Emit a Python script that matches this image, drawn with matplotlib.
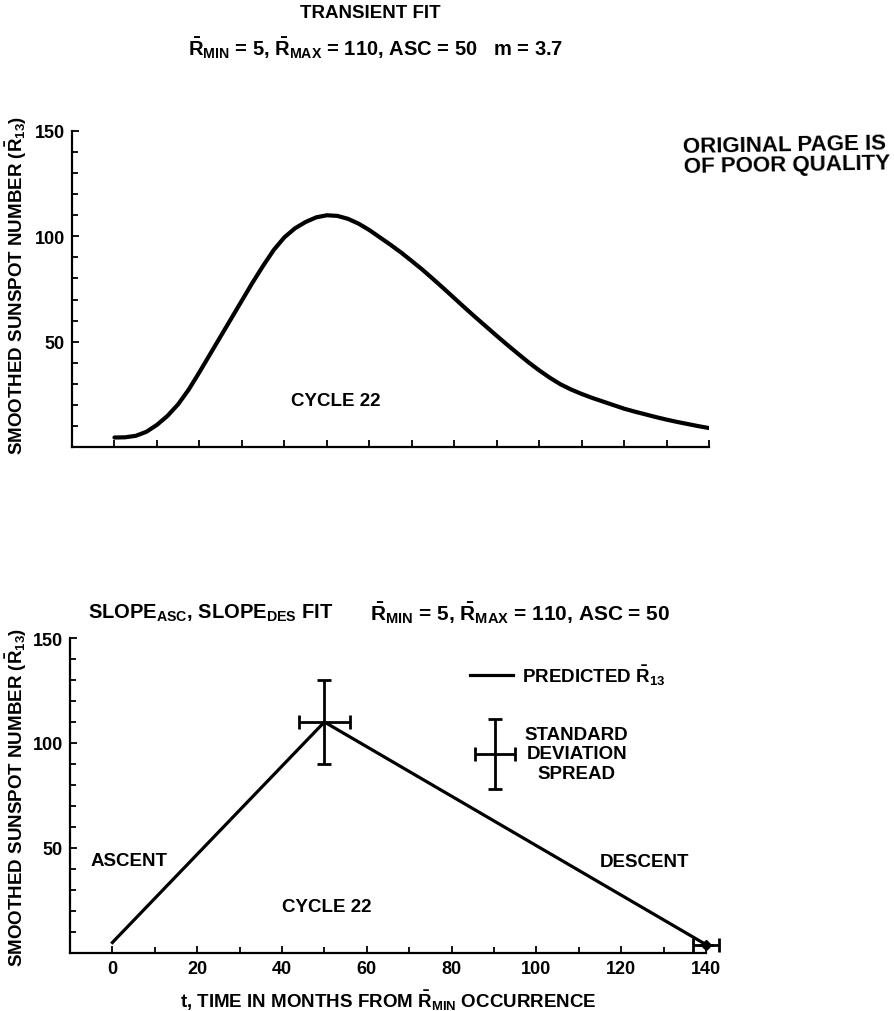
import matplotlib
matplotlib.use("Agg")
import matplotlib.pyplot as plt
from matplotlib.ticker import MultipleLocator

plt.rcParams['font.family'] = ['Liberation Sans', 'DejaVu Sans']
plt.rcParams['font.weight'] = 'bold'
plt.rcParams['axes.labelweight'] = 'bold'
plt.rcParams['font.size'] = 13.5
plt.rcParams['mathtext.fontset'] = 'custom'
plt.rcParams['mathtext.rm'] = 'Liberation Sans:bold'
plt.rcParams['mathtext.it'] = 'Liberation Sans:bold'
plt.rcParams['mathtext.bf'] = 'Liberation Sans:bold'

# top panel: transient fit curve (months from R_min, smoothed sunspot number)
t_fit = [0, 2.5, 5, 7.5, 10, 12.5, 15, 17.5, 20, 22.5, 25, 27.5, 30, 32.5, 35,
         37.5, 40, 42.5, 45, 47.5, 50, 52.5, 55, 57.5, 60, 62.5, 65, 67.5, 70,
         72.5, 75, 77.5, 80, 82.5, 85, 87.5, 90, 92.5, 95, 97.5, 100, 102.5, 105,
         107.5, 110, 112.5, 115, 117.5, 120, 122.5, 125, 127.5, 130, 132.5, 135,
         137.5, 140]
r_fit = [4.5, 4.6, 5.3, 7.2, 10.5, 14.8, 20.3, 27.3, 35.5, 44, 52.5, 61, 69.5, 78, 86,
         93.5, 99.5, 103.8, 106.8, 109, 110, 109.7, 108.3, 106, 103, 99.5, 96, 92.3, 88.3,
         84.2, 79.8, 75.3, 70.7, 66.1, 61.6, 57.2, 52.8, 48.5, 44.3, 40.2, 36.4, 32.9, 29.8,
         27.3, 25.2, 23.3, 21.6, 19.9, 18.2, 16.8, 15.5, 14.2, 13, 11.9, 10.9,
         9.9, 9]

# bottom panel: slope fit (ascent / descent)
t_slope = [0, 50, 140]
r_slope = [5, 110, 4]

# standard deviation spread at the peak and at the end
t_err = [50, 140]
r_err = [110, 4]
t_spread = [6, 3]
r_spread = [20, 0]

YLAB = r"SMOOTHED SUNSPOT NUMBER ($\bar{\mathrm{R}}_{13}$)"

fig = plt.figure(figsize=(8.95, 10.12), dpi=100)
ax1 = fig.add_axes([72 / 895, 1 - 448 / 1012, (709 - 72) / 895, 316 / 1012])
ax2 = fig.add_axes([70 / 895, 1 - 954 / 1012, (706 - 70) / 895, 315 / 1012])

for ax in (ax1, ax2):
    ax.set_xlim(-10, 140)
    ax.set_ylim(0, 150)
    ax.spines['top'].set_visible(False)
    ax.spines['right'].set_visible(False)
    for s in ('left', 'bottom'):
        ax.spines[s].set_linewidth(1.6)
    ax.yaxis.set_major_locator(MultipleLocator(50))
    ax.yaxis.set_minor_locator(MultipleLocator(10))
    ax.tick_params(which='both', direction='in', width=1.3)
    ax.tick_params(which='major', length=5, pad=5, labelsize=13)
    ax.tick_params(which='minor', length=4)

ax1.set_xticks(range(0, 141, 10))
ax1.tick_params(axis='x', labelbottom=False)
ax1.set_yticks([50, 100, 150])

ax2.set_xticks(range(0, 141, 20))
ax2.xaxis.set_minor_locator(MultipleLocator(10))
ax2.set_yticks([50, 100, 150])

ax1.plot(t_fit, r_fit, color='black', lw=3.0, solid_capstyle='round',
         solid_joinstyle='round')
ax1.text(52, 22, "CYCLE 22", ha='center', va='center')
ax1.set_ylabel(YLAB)
ax1.yaxis.set_label_coords(-0.0675, 0.516)

ax2.plot(t_slope, r_slope, color='black', lw=2.3)
ax2.errorbar(t_err, r_err, xerr=t_spread, yerr=r_spread, fmt='none',
             ecolor='black', elinewidth=2.0, capsize=5, capthick=2.0, clip_on=False)
ax2.plot(t_err[1:], r_err[1:], marker='D', ms=5, color='black', clip_on=False)
ax2.text(4, 44, "ASCENT", ha='center', va='center')
ax2.text(125.5, 43.5, "DESCENT", ha='center', va='center')
ax2.text(50.5, 22, "CYCLE 22", ha='center', va='center')
ax2.set_ylabel(YLAB)
ax2.yaxis.set_label_coords(-0.0645, 0.498)
ax2.set_xlabel(r"t, TIME IN MONTHS FROM $\bar{\mathrm{R}}_{\mathrm{MIN}}$ OCCURRENCE",
               labelpad=8)

# legend drawn by hand, as in the original figure
ax2.plot([84.3, 94.4], [132.4, 132.4], color='black', lw=2.3)
ax2.text(96.5, 132.4, r"PREDICTED $\bar{\mathrm{R}}_{13}$", ha='left', va='center')
ax2.errorbar([90.2], [94.8], xerr=[4.7], yerr=[16.7], fmt='none', ecolor='black',
             elinewidth=2.0, capsize=5, capthick=2.0)
ax2.text(109.5, 94.8, "STANDARD\nDEVIATION\nSPREAD", ha='center', va='center',
         linespacing=1.17)

fig.text(370 / 895, 1 - 14 / 1012, "TRANSIENT FIT", ha='center', va='center')
fig.text(376 / 895, 1 - 48 / 1012,
         r"$\bar{\mathrm{R}}_{\mathrm{MIN}}$ = 5, $\bar{\mathrm{R}}_{\mathrm{MAX}}$ = 110, "
         r"ASC = 50   m = 3.7",
         ha='center', va='center', fontsize=14.5)
fig.text(88 / 895, 1 - 613 / 1012,
         r"SLOPE$_{\mathrm{ASC}}$, SLOPE$_{\mathrm{DES}}$ FIT",
         ha='left', va='center', fontsize=14.5)
fig.text(370 / 895, 1 - 613 / 1012,
         r"$\bar{\mathrm{R}}_{\mathrm{MIN}}$ = 5, $\bar{\mathrm{R}}_{\mathrm{MAX}}$ = 110, ASC = 50",
         ha='left', va='center', fontsize=15)
fig.text(683 / 895, 1 - 156 / 1012, "ORIGINAL PAGE IS\nOF POOR QUALITY", ha='left',
         va='center', fontsize=16, rotation=1, linespacing=0.95)

fig.savefig("out.png", dpi=100)
